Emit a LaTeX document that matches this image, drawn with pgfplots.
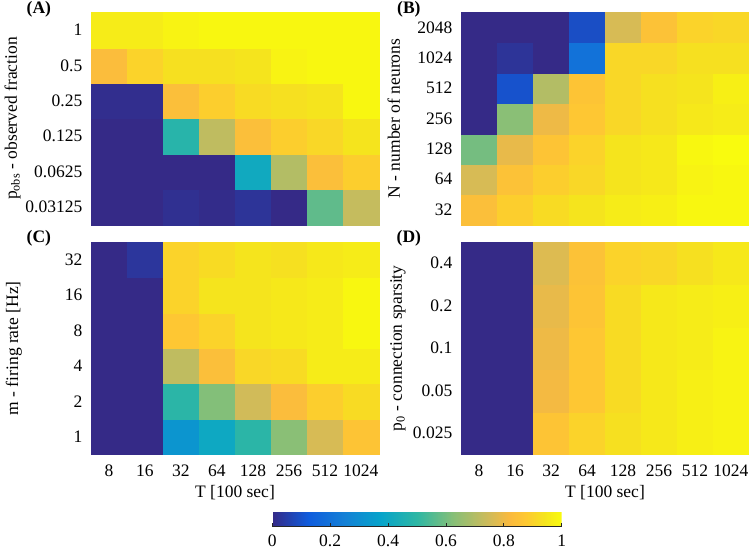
\documentclass[border=0pt]{standalone}
\usepackage{fontspec}
\setmainfont{Liberation Serif}
\usepackage{pgfplots}
\pgfplotsset{compat=1.18}
\pgfplotsset{
  /pgf/number format/assume math mode=true,
  colormap={parula}{rgb255(0pt)=(53,42,135); rgb255(125pt)=(15,92,221); rgb255(250pt)=(20,129,214); rgb255(375pt)=(6,164,202); rgb255(500pt)=(46,183,164); rgb255(625pt)=(135,191,119); rgb255(750pt)=(209,187,89); rgb255(820pt)=(250,186,62); rgb255(875pt)=(254,200,50); rgb255(940pt)=(245,228,29); rgb255(1000pt)=(249,251,14)},
  hm/.style={
    scale only axis, width=288pt, height=212.5pt,
    xmin=-0.5, xmax=7.5, ymin=-0.5,
    xtick={0,...,7},
    axis x line*=bottom, axis y line*=left,
    x axis line style={-}, y axis line style={-},
    axis line style={black!85, line width=0.8pt},
    tick align=inside, major tick length=5pt,
    tick style={black!85, line width=0.8pt},
    point meta min=0, point meta max=1,
    colormap name=parula,
    clip=false,
    tick label style={font=\fontsize{17.5}{21}\selectfont},
    label style={font=\fontsize{17.5}{21}\selectfont},
    yticklabel style={inner sep=0pt, xshift=-8.5pt},
    xticklabel style={inner sep=0pt, anchor=base, yshift=-22pt},
    xlabel style={at={(axis description cs:0.5,-0.203)}, anchor=base},
  },
  nox/.style={xticklabels={}, xtick style={draw=none}},
  withx/.style={xticklabels={8,16,32,64,128,256,512,1024}, xlabel={T [100 sec]}},
}
\newcommand{\plab}[2]{\node[font=\bfseries\fontsize{17.5}{21}\selectfont, anchor=center] at (rel axis cs:-0.181,#2) {#1};}
\begin{document}
\begin{tikzpicture}
\useasboundingbox (0,0) rectangle (749pt,-552pt);
% (A)
\begin{axis}[hm, nox, at={(91pt,-12.3pt)}, anchor=north west,
  ymax=5.5, ytick={0,...,5},
  yticklabels={0.03125,0.0625,0.125,0.25,0.5,1},
  ylabel={p\textsubscript{obs} - observed fraction},
  ylabel style={at={(axis description cs:-0.257,0.5)}, anchor=base}]
\addplot[matrix plot*, mesh/cols=8, point meta=explicit] table[meta=c] {
x y c
0 0 0
1 0 0
2 0 0.015
3 0 0.005
4 0 0.025
5 0 0
6 0 0.57
7 0 0.73
0 1 0
1 1 0
2 1 0
3 1 0
4 1 0.41
5 1 0.70
6 1 0.84
7 1 0.89
0 2 0
1 2 0
2 2 0.48
3 2 0.72
4 2 0.84
5 2 0.89
6 2 0.91
7 2 0.94
0 3 0.01
1 3 0.01
2 3 0.84
3 3 0.89
4 3 0.92
5 3 0.93
6 3 0.94
7 3 0.99
0 4 0.83
1 4 0.90
2 4 0.93
3 4 0.93
4 4 0.94
5 4 0.98
6 4 0.99
7 4 0.99
0 5 0.96
1 5 0.96
2 5 0.98
3 5 0.99
4 5 0.99
5 5 0.99
6 5 0.99
7 5 0.99
};
\plab{(A)}{1.012}
\end{axis}
% (B)
\begin{axis}[hm, nox, at={(461pt,-12.3pt)}, anchor=north west,
  ymax=6.5, ytick={0,...,6},
  yticklabels={32,64,128,256,512,1024,2048},
  ylabel={N - number of neurons},
  ylabel style={at={(axis description cs:-0.212,0.5)}, anchor=base}]
\addplot[matrix plot*, mesh/cols=8, point meta=explicit] table[meta=c] {
x y c
0 0 0.84
1 0 0.89
2 0 0.92
3 0 0.94
4 0 0.96
5 0 0.97
6 0 0.99
7 0 0.99
0 1 0.76
1 1 0.85
2 1 0.89
3 1 0.91
4 1 0.94
5 1 0.95
6 1 0.98
7 1 0.99
0 2 0.60
1 2 0.79
2 2 0.86
3 2 0.90
4 2 0.94
5 2 0.95
6 2 0.99
7 2 1.00
0 3 0
1 3 0.63
2 3 0.80
3 3 0.87
4 3 0.91
5 3 0.93
6 3 0.95
7 3 0.96
0 4 0
1 4 0.10
2 4 0.70
3 4 0.86
4 4 0.91
5 4 0.93
6 4 0.94
7 4 0.97
0 5 0
1 5 0.025
2 5 0
3 5 0.20
4 5 0.91
5 5 0.91
6 5 0.93
7 5 0.93
0 6 0
1 6 0
2 6 0
3 6 0.09
4 6 0.76
5 6 0.85
6 6 0.90
7 6 0.91
};
\plab{(B)}{1.012}
\end{axis}
% (C)
\begin{axis}[hm, withx, at={(91pt,-242pt)}, anchor=north west,
  ymax=5.5, ytick={0,...,5},
  yticklabels={1,2,4,8,16,32},
  ylabel={m - firing rate [Hz]},
  ylabel style={at={(axis description cs:-0.253,0.5)}, anchor=base},
  colorbar horizontal,
  colorbar style={
    at={(parent axis.south west)}, anchor=north west,
    xshift=181.3pt, yshift=-44.4pt,
    scale only axis, width=289.4pt, height=19.3pt,
    xtick={0,0.2,0.4,0.6,0.8,1},
    hide y axis,
    axis x line*=bottom, x axis line style={-},
    axis line style={black!85, line width=0.8pt},
    tick align=inside, major tick length=4pt,
    xtick style={black!85, line width=0.8pt},
    xticklabel style={inner sep=0pt, anchor=base, yshift=-20pt, font=\fontsize{17.5}{21}\selectfont},
  }]
\addplot[matrix plot*, mesh/cols=8, point meta=explicit] table[meta=c] {
x y c
0 0 0
1 0 0
2 0 0.32
3 0 0.40
4 0 0.49
5 0 0.63
6 0 0.76
7 0 0.86
0 1 0
1 1 0
2 1 0.49
3 1 0.62
4 1 0.75
5 1 0.83
6 1 0.89
7 1 0.92
0 2 0
1 2 0
2 2 0.72
3 2 0.84
4 2 0.91
5 2 0.92
6 2 0.96
7 2 0.96
0 3 0
1 3 0
2 3 0.87
3 3 0.90
4 3 0.94
5 3 0.95
6 3 0.96
7 3 0.99
0 4 0
1 4 0
2 4 0.90
3 4 0.94
4 4 0.94
5 4 0.95
6 4 0.96
7 4 0.99
0 5 0
1 5 0.03
2 5 0.90
3 5 0.92
4 5 0.94
5 5 0.93
6 5 0.95
7 5 0.96
};
\plab{(C)}{1.018}
\end{axis}
% (D)
\begin{axis}[hm, withx, at={(461pt,-242pt)}, anchor=north west,
  ymax=4.5, ytick={0,...,4},
  yticklabels={0.025,0.05,0.1,0.2,0.4},
  ylabel={p\textsubscript{0} - connection sparsity},
  ylabel style={at={(axis description cs:-0.205,0.5)}, anchor=base}]
\addplot[matrix plot*, mesh/cols=8, point meta=explicit] table[meta=c] {
x y c
0 0 0
1 0 0
2 0 0.86
3 0 0.90
4 0 0.93
5 0 0.95
6 0 0.97
7 0 0.98
0 1 0
1 1 0
2 1 0.81
3 1 0.87
4 1 0.92
5 1 0.95
6 1 0.97
7 1 0.98
0 2 0
1 2 0
2 2 0.80
3 2 0.87
4 2 0.92
5 2 0.95
6 2 0.96
7 2 0.98
0 3 0
1 3 0
2 3 0.79
3 3 0.86
4 3 0.92
5 3 0.95
6 3 0.96
7 3 0.97
0 4 0
1 4 0
2 4 0.77
3 4 0.85
4 4 0.90
5 4 0.91
6 4 0.93
7 4 0.95
};
\plab{(D)}{1.018}
\end{axis}
\end{tikzpicture}
\end{document}
